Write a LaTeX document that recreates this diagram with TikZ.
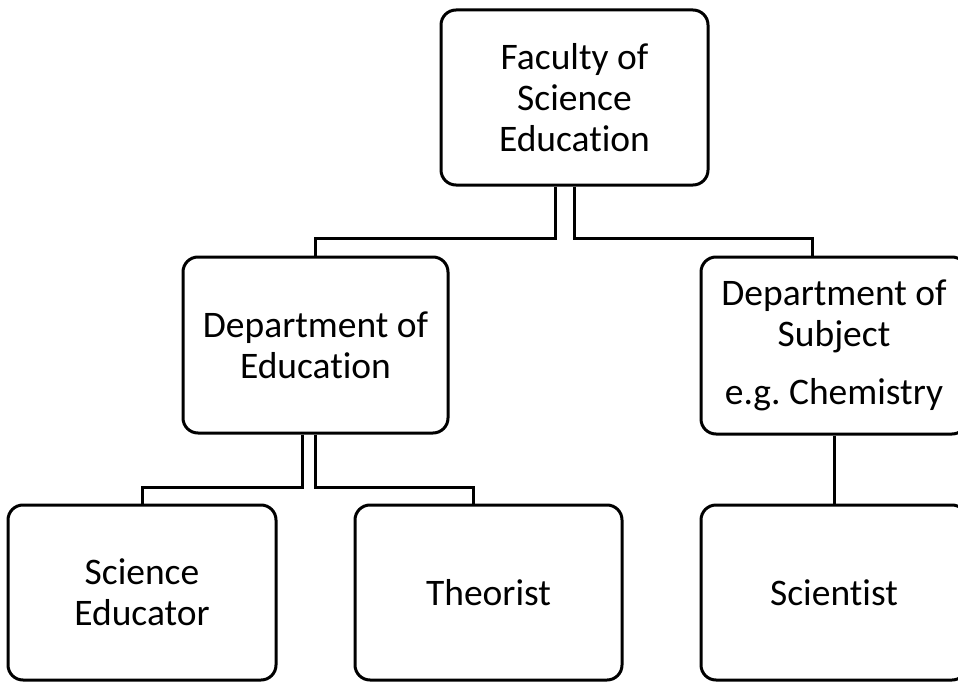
\documentclass[tikz,border=0pt]{standalone}
\usepackage{fontspec}
\setmainfont{Carlito}[Ligatures={NoCommon}]
\begin{document}
\begin{tikzpicture}[x=1pt,y=-1pt,
  box/.style={draw=black, line width=3pt, rounded corners=15pt, fill=white,
    align=center, inner sep=0pt,
    font=\fontsize{37.5}{41}\selectfont\frenchspacing},
  link/.style={draw=black, line width=3pt}]
  \clip (0,0) rectangle (958,682);
  \fill[white] (0,0) rectangle (958,682);

  % boxes
  \node[box, minimum width=267pt, minimum height=175pt] (top) at (574.5,97.5)
    {Faculty of\\Science\\Education};
  \node[box, minimum width=265pt, minimum height=176pt] (deped) at (315.5,345)
    {Department of\\Education};
  \node[box, minimum width=266pt, minimum height=177pt] (depsub) at (834,345.5)
    {Department of\\Subject\\[17pt]e.g. Chemistry};
  \node[box, minimum width=268pt, minimum height=175pt] (sciedu) at (142,592.5)
    {Science\\Educator};
  \node[box, minimum width=267pt, minimum height=175pt] (theo) at (488.5,592.5)
    {Theorist};
  \node[box, minimum width=266pt, minimum height=175pt] (sci) at (834,592.5)
    {Scientist};

  % connectors
  \draw[link] ([xshift=-19.5pt]top.south) -- ++(0,52) -| (deped.north);
  \draw[link] (top.south) -- ++(0,52) -| ([xshift=-22pt]depsub.north);
  \draw[link] ([xshift=-13.5pt]deped.south) -- ++(0,53) -| (sciedu.north);
  \draw[link] (deped.south) -- ++(0,53) -| ([xshift=-15pt]theo.north);
  \draw[link] (depsub.south) -- (sci.north);
\end{tikzpicture}
\end{document}
